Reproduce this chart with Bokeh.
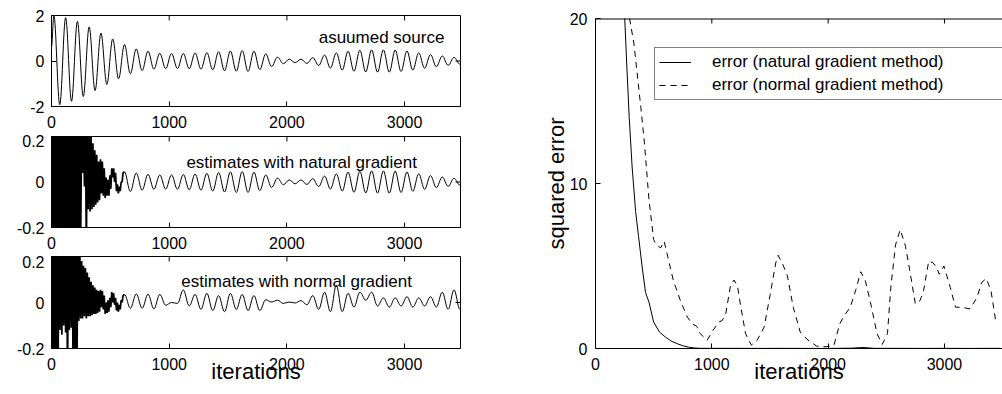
import numpy as np
from bokeh.plotting import figure
from bokeh.models import Range1d, FixedTicker, Legend, LegendItem, ColumnDataSource
from bokeh.layouts import row, column
from bokeh.embed import file_html
from bokeh.resources import INLINE

FONT = "Liberation Sans"

# ---------------- data ----------------
iter_ticks = [0, 1000, 2000, 3000]
src_ticks = [-2, 0, 2]
est_ticks = [-0.2, 0, 0.2]
err_ticks = [0, 10, 20]

# assumed source: value at iteration 0, then successive extrema (every 50 iterations from 20)
src_start = 0.62
src_ext = [2.00, -1.92, 1.90, -1.77, 1.74, -1.56, 1.50, -1.30, 1.22, -1.03,
           0.97, -0.78, 0.72, -0.56, 0.53, -0.42, 0.43, -0.36, 0.34, -0.34,
           0.33, -0.33, 0.33, -0.34, 0.35, -0.36, 0.37, -0.39, 0.41, -0.43,
           0.44, -0.45, 0.46, -0.46, 0.43, -0.38, 0.31, -0.24, 0.17, -0.12,
           0.08, -0.07, 0.08, -0.11, 0.15, -0.20, 0.26, -0.31, 0.36, -0.40,
           0.43, -0.45, 0.47, -0.48, 0.49, -0.49, 0.49, -0.49, 0.48, -0.46,
           0.44, -0.40, 0.36, -0.32, 0.28, -0.25, 0.22, -0.19, 0.16, -0.14,
           0.12]

# natural-gradient estimate: noisy start (every 8 iterations), then extrema every 50 from 620
nat_noise = [0.35, -0.40, 0.30, -0.36, 0.42, -0.31, 0.38, -0.45, 0.33, -0.36,
             0.40, -0.32, 0.36, -0.41, 0.30, -0.38, 0.44, -0.30, 0.35, -0.37,
             0.31, -0.42, 0.39, -0.33, 0.36, -0.30, 0.41, -0.35, 0.30, -0.28,
             0.33, -0.25,
             0.24, 0.04, 0.22, -0.02, 0.30, -0.32, 0.28, -0.12, 0.24, -0.13,
             0.20, -0.12, 0.17, -0.11, 0.14, -0.10, 0.12, -0.09,
             0.09, -0.08, 0.10, -0.05, 0.09, -0.06, 0.06, -0.07, 0.02, -0.06,
             0.01, -0.06, 0.03, -0.03, 0.06, 0.02, 0.06, 0.00, 0.04, -0.04,
             -0.01, -0.05, -0.02, -0.04, 0.00, 0.00, 0.04]
nat_ext = [0.045, -0.042, 0.040, -0.036, 0.034, -0.032, 0.031, -0.031, 0.031, -0.032,
           0.033, -0.034, 0.035, -0.036, 0.038, -0.040, 0.042, -0.044, 0.045, -0.046,
           0.046, -0.046, 0.043, -0.038, 0.031, -0.024, 0.017, -0.012, 0.009, -0.008,
           0.009, -0.011, 0.015, -0.020, 0.026, -0.031, 0.036, -0.040, 0.043, -0.045,
           0.047, -0.048, 0.049, -0.049, 0.049, -0.049, 0.048, -0.046, 0.044, -0.041,
           0.036, -0.032, 0.028, -0.025, 0.022, -0.019, 0.016, -0.014, 0.012]

# normal-gradient estimate
nor_noise = [0.35, -0.40, 0.30, -0.35, 0.40, -0.38, 0.32, -0.30, 0.36, -0.12,
             0.30, -0.14, 0.38, -0.10, 0.33, -0.13, 0.40, -0.35, 0.30, -0.12,
             0.34, -0.11, 0.36, -0.40, 0.31, -0.30, 0.30, -0.35, 0.30, -0.08,
             0.26, -0.07,
             0.18, -0.07, 0.16, -0.06, 0.15, -0.07, 0.13, -0.06, 0.11, -0.06,
             0.09, -0.055, 0.075, -0.05, 0.065, -0.05, 0.055, -0.045,
             0.05, -0.04, 0.055, -0.02, 0.05, -0.03, 0.03, -0.05, 0.0, -0.045,
             0.01, -0.04, 0.02, -0.02, 0.045, 0.0, 0.04, -0.01, 0.02, -0.035,
             0.0, -0.04, -0.01, -0.03, 0.01, 0.0, 0.03]
nor_ext = [0.035, -0.025, 0.037, -0.025, 0.036, -0.028, 0.035, -0.012, 0.000, -0.004,
           0.055, -0.015, 0.035, -0.030, 0.040, -0.035, 0.030, -0.040, 0.040, -0.030,
           0.035, -0.035, 0.030, -0.035, 0.012, 0.002, 0.010, -0.004, 0.002, -0.002,
           0.008, -0.010, 0.030, -0.030, 0.045, -0.040, 0.075, -0.040, 0.040, -0.020,
           0.045, 0.010, 0.045, -0.015, 0.020, -0.020, 0.020, -0.015, 0.025, -0.020,
           0.020, -0.015, 0.025, -0.020, 0.045, -0.030, 0.055, -0.030, 0.050]

# squared error curves
nat_err_x = [200, 250, 270, 290, 315, 345, 370, 400, 430, 460, 500, 550, 600, 650, 700,
             750, 800, 850, 900, 1000, 1200, 1400, 1600, 1800, 2000, 2200, 2300, 2400,
             2600, 2800, 3000, 3200, 3400, 3480]
nat_err = [30, 20.2, 17, 14, 11, 8.3, 6.8, 5.0, 3.4, 2.8, 1.6, 1.0, 0.7, 0.45, 0.3,
           0.17, 0.08, 0.03, 0.01, 0.01, 0.01, 0.005, 0.01, 0.005, 0.005, 0.02, 0.06, 0.01,
           0.01, 0.005, 0.01, 0.005, 0.01, 0.01]
nor_err_x = [250, 293, 330, 390, 420, 460, 500, 520, 560, 590,
             620, 670, 730, 790, 830, 870, 900, 960, 1010, 1060,
             1090, 1120, 1160, 1190, 1220, 1250, 1290, 1340, 1390, 1450,
             1500, 1550, 1570, 1610, 1650, 1700, 1760, 1820, 1900, 1950,
             2000, 2050, 2100, 2140, 2190, 2240, 2280, 2320, 2370, 2420,
             2465, 2510, 2540, 2580, 2620, 2665, 2700, 2750, 2790, 2820,
             2865, 2900, 2930, 2955, 2995, 3050, 3095, 3150, 3220, 3280,
             3320, 3360, 3400, 3440]
nor_err = [24, 20, 18.5, 14.6, 12.5, 9.0, 6.6, 6.3, 6.1, 6.5,
           5.6, 4.1, 2.9, 1.9, 1.5, 1.35, 0.9, 0.5, 1.1, 1.6,
           1.7, 2.1, 3.8, 4.15, 3.8, 2.5, 0.9, 0.2, 0.5, 1.3,
           3.2, 5.2, 5.65, 5.1, 4.4, 2.5, 1.0, 0.55, 0.15, 0.1,
           0.12, 0.2, 1.5, 2.0, 2.5, 3.6, 4.65, 4.1, 2.6, 0.9,
           0.25, 0.9, 3.8, 6.3, 7.2, 6.2, 4.8, 2.7, 2.9, 3.5,
           5.3, 5.2, 4.95, 4.5, 5.0, 3.7, 2.5, 2.5, 2.4, 3.1,
           4.0, 4.25, 3.5, 1.7]

NOISE_STEP = 8
EXT_STEP = 50
TICK_LEN = 5  # px, inward


# ---------------- helpers ----------------
def style_axis(ax, standoff):
    ax.axis_line_color = "black"
    ax.axis_line_width = 1
    ax.major_tick_line_color = "black"
    ax.major_tick_in = TICK_LEN
    ax.major_tick_out = 0
    ax.minor_tick_in = 0
    ax.minor_tick_out = 0
    ax.major_label_text_font = FONT
    ax.major_label_text_color = "black"
    ax.major_label_text_font_size = "16px"
    ax.major_label_standoff = standoff
    ax.axis_label_text_font = FONT
    ax.axis_label_text_font_size = "22px"
    ax.axis_label_text_font_style = "normal"
    ax.axis_label_text_color = "black"


def inner_ticks(p, xr, yr, fw, fh, xt, yt=None):
    """Inward tick marks on the top (and right) frame edges, from the tick lists."""
    dy = TICK_LEN * (yr[1] - yr[0]) / fh
    n = len(xt)
    p.segment(x0=xt, y0=[yr[1]] * n, x1=xt, y1=[yr[1] - dy] * n,
              line_color="black", line_width=1)
    if yt is not None:
        dx = TICK_LEN * (xr[1] - xr[0]) / fw
        m = len(yt)
        p.segment(x0=[xr[1]] * m, y0=yt, x1=[xr[1] - dx] * m, y1=yt,
                  line_color="black", line_width=1)


def smooth_source(xs, ys):
    xs = np.asarray(xs, float)
    ys = np.asarray(ys, float)
    x0, x1, y0, y1 = xs[:-1], xs[1:], ys[:-1], ys[1:]
    h = x1 - x0
    return ColumnDataSource(dict(x0=x0, y0=y0, x1=x1, y1=y1,
                                 cx0=x0 + 0.364 * h, cy0=y0,
                                 cx1=x1 - 0.364 * h, cy1=y1))


def draw_smooth(p, xs, ys):
    p.bezier(x0="x0", y0="y0", x1="x1", y1="y1", cx0="cx0", cy0="cy0",
             cx1="cx1", cy1="cy1", source=smooth_source(xs, ys),
             line_color="black", line_width=1)


LEFT_XR = (0, 3475)
LEFT_FW = 409


def make_panel(yr, yticks, overrides, mb_top, fh, mb_bot):
    p = figure(frame_width=LEFT_FW, frame_height=fh,
               min_border_left=51, min_border_right=10,
               min_border_top=mb_top, min_border_bottom=mb_bot,
               x_range=Range1d(*LEFT_XR), y_range=Range1d(*yr),
               toolbar_location=None, tools="", output_backend="svg",
               background_fill_color="white", border_fill_color="white")
    p.outline_line_color = "black"
    p.xgrid.visible = False
    p.ygrid.visible = False
    p.xaxis.ticker = FixedTicker(ticks=iter_ticks)
    p.yaxis.ticker = FixedTicker(ticks=yticks)
    p.yaxis.major_label_overrides = overrides
    style_axis(p.xaxis[0], 9)
    style_axis(p.yaxis[0], 7)
    inner_ticks(p, LEFT_XR, yr, LEFT_FW, fh, iter_ticks, yticks)
    return p


# ---------------- left panels ----------------
p1 = make_panel((-2, 2), src_ticks, {-2: "-2", 0: "0", 2: "2"}, 15, 91, 28)
src_x = [0] + list(20 + EXT_STEP * np.arange(len(src_ext)))
draw_smooth(p1, src_x, [src_start] + src_ext)
p1.text(x=[2270], y=[1.03], text=["asuumed source"], text_font={"value": FONT},
        text_font_size="17px", text_color="black", text_baseline="alphabetic")

est_over = {-0.2: "-0.2", 0: "0", 0.2: "0.2"}

p2 = make_panel((-0.2, 0.2), est_ticks, est_over, 2, 91, 28)
nat_x = 620 + EXT_STEP * np.arange(len(nat_ext))
nx = list(NOISE_STEP * np.arange(len(nat_noise))) + [nat_x[0]]
p2.line(nx, nat_noise + [nat_ext[0]], line_color="black", line_width=1.7)
draw_smooth(p2, nat_x, nat_ext)
p2.text(x=[1146], y=[0.087], text=["estimates with natural gradient"],
        text_font={"value": FONT}, text_font_size="17px", text_color="black",
        text_baseline="alphabetic")

p3 = make_panel((-0.2, 0.2), est_ticks, est_over, 1, 92, 45)
nor_x = 620 + EXT_STEP * np.arange(len(nor_ext))
bx = list(NOISE_STEP * np.arange(len(nor_noise))) + [nor_x[0]]
p3.line(bx, nor_noise + [nor_ext[0]], line_color="black", line_width=1.7)
draw_smooth(p3, nor_x, nor_ext)
p3.text(x=[1103], y=[0.09], text=["estimates with normal gradient"],
        text_font={"value": FONT}, text_font_size="17px", text_color="black",
        text_baseline="alphabetic")
p3.xaxis.axis_label = "iterations"
p3.xaxis.axis_label_standoff = -14

# ---------------- right panel ----------------
ERR_XR = (0, 3499)
ERR_YR = (0, 20)
pe = figure(frame_width=407, frame_height=330,
            min_border_left=125, min_border_right=0,
            min_border_top=18, min_border_bottom=45,
            x_range=Range1d(*ERR_XR), y_range=Range1d(*ERR_YR),
            toolbar_location=None, tools="", output_backend="svg",
            background_fill_color="white", border_fill_color="white")
pe.outline_line_color = None
pe.xgrid.visible = False
pe.ygrid.visible = False
pe.xaxis.ticker = FixedTicker(ticks=iter_ticks)
pe.yaxis.ticker = FixedTicker(ticks=err_ticks)
pe.yaxis.major_label_overrides = {0: "0", 10: "10", 20: "20"}
style_axis(pe.xaxis[0], 9)
style_axis(pe.yaxis[0], 8)
pe.xaxis.axis_label = "iterations"
pe.xaxis.axis_label_standoff = -14
pe.yaxis.axis_label = "squared error"
pe.yaxis.axis_label_standoff = -2
# top edge of the box (the right edge lies beyond the window in the original)
pe.segment(x0=[ERR_XR[0]], y0=[ERR_YR[1]], x1=[ERR_XR[1]], y1=[ERR_YR[1]],
           line_color="black", line_width=2)
inner_ticks(pe, ERR_XR, ERR_YR, 407, 330, iter_ticks)

r1 = pe.line(nat_err_x, nat_err, line_color="black", line_width=1)
r2 = pe.line(nor_err_x, nor_err, line_color="black", line_width=1, line_dash="6 5")

leg = Legend(items=[LegendItem(label="error (natural gradient method)", renderers=[r1]),
                    LegendItem(label="error (normal gradient method)", renderers=[r2])],
             location=(59, 248), orientation="vertical",
             border_line_color="black", border_line_width=1,
             background_fill_color="white", background_fill_alpha=1.0,
             label_text_font=FONT, label_text_font_size="17px",
             label_text_color="black",
             glyph_width=32, glyph_height=20, label_height=20, label_width=330,
             label_standoff=21, padding=4, spacing=3, margin=0)
pe.add_layout(leg, "center")

layout = row(column(p1, p2, p3), pe)
open("out.html", "w").write(file_html(layout, INLINE))
